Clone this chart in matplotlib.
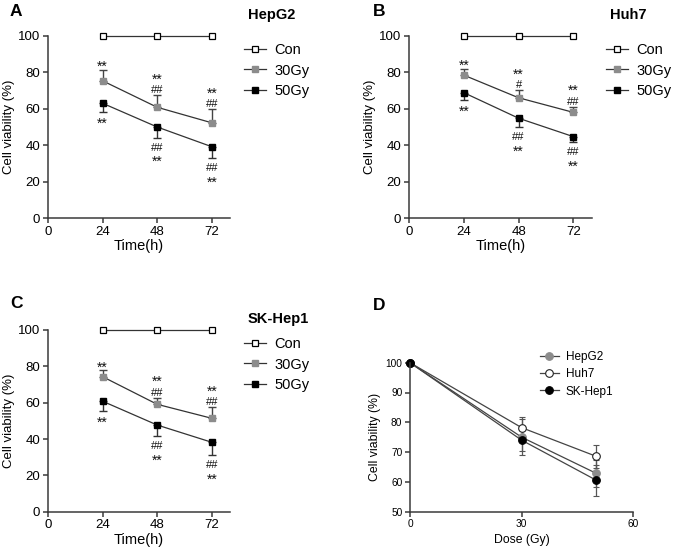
import matplotlib

matplotlib.use("Agg")
import matplotlib.pyplot as plt

plt.rcParams["font.family"] = ["Liberation Sans", "DejaVu Sans"]

# time course panels (A-C)
time_h = [24, 48, 72]
time_ticks = [0, 24, 48, 72]
group_labels = ["Con", "30Gy", "50Gy"]
con_values = [100, 100, 100]

hepg2_30 = [75.3, 60.8, 52.3]
hepg2_30_err = [5.9, 6.7, 7.6]
hepg2_50 = [63.0, 50.0, 39.2]
hepg2_50_err = [4.6, 5.9, 6.3]

huh7_30 = [78.4, 66.0, 58.0]
huh7_30_err = [3.4, 4.3, 3.1]
huh7_50 = [68.8, 54.8, 44.7]
huh7_50_err = [4.0, 5.0, 3.0]

sk_30 = [74.3, 59.1, 51.4]
sk_30_err = [3.5, 3.6, 6.1]
sk_50 = [60.8, 47.7, 38.2]
sk_50_err = [5.2, 6.0, 7.0]

# significance marks, lines listed top to bottom
hepg2_marks_30 = ["**", "**\n##", "**\n##"]
hepg2_marks_50 = ["**", "##\n**", "##\n**"]
huh7_marks_30 = ["**", "**\n#", "**\n##"]
huh7_marks_50 = ["**", "##\n**", "##\n**"]
sk_marks_30 = ["**", "**\n##", "**\n##"]
sk_marks_50 = ["**", "##\n**", "##\n**"]

# dose panel (D)
dose_gy = [0, 30, 50]
dose_ticks = [0, 30, 60]
cell_lines = ["HepG2", "Huh7", "SK-Hep1"]
d_hepg2 = [100, 75.0, 62.9]
d_hepg2_err = [0, 6.0, 4.6]
d_huh7 = [100, 78.2, 68.6]
d_huh7_err = [0, 3.5, 3.8]
d_sk = [100, 74.0, 60.6]
d_sk_err = [0, 3.6, 5.2]

W, H = 675, 554
PX = 100 / 72  # pixels per point
AX_COLOR = "#3a3a3a"
GRAY = "#8c8c8c"
LINE = "#333333"
STAR_FS, HASH_FS = 10, 8
MARK_STEP = 12.5  # px between stacked marks


def fig_rect(left, top, right, bottom):
    return [left / W, 1 - bottom / H, (right - left) / W, (bottom - top) / H]


def style_axes(ax, size):
    for side in ("top", "right"):
        ax.spines[side].set_visible(False)
    for side in ("left", "bottom"):
        ax.spines[side].set_color(AX_COLOR)
        ax.spines[side].set_linewidth(1.1)
    ax.tick_params(direction="out", length=3.5, width=1.1, color=AX_COLOR,
                   labelsize=size, pad=2)


def put_mark(ax, x, y, text, center_px):
    # center_px: vertical position of the glyph centre relative to (x, y)
    fs = STAR_FS if "*" in text else HASH_FS
    glyph_mid = (0.5 if "*" in text else 0.36) * fs * PX
    ax.annotate(text, (x, y), xytext=(0, (center_px - glyph_mid) / PX),
                textcoords="offset points", ha="center", va="baseline",
                fontsize=fs, color="#111111")


def time_panel(ax, v30, e30, v50, e50, marks30, marks50):
    ax.plot(time_h, con_values, color=LINE, lw=0.9, marker="s", ms=5,
            mfc="white", mec="black", mew=0.9, clip_on=False, zorder=4,
            label=group_labels[0])
    c30 = ax.errorbar(time_h, v30, yerr=[[0] * 3, e30], color=LINE, lw=0.9,
                      marker="s", ms=5, mfc=GRAY, mec=GRAY, ecolor="#444444",
                      elinewidth=1, capsize=3, capthick=1, zorder=3)
    c50 = ax.errorbar(time_h, v50, yerr=[e50, [0] * 3], color=LINE, lw=0.9,
                      marker="s", ms=5, mfc="black", mec="black", ecolor="#333333",
                      elinewidth=1, capsize=3, capthick=1, zorder=3)
    for x, y, e, m in zip(time_h, v30, e30, marks30):
        lines = m.split("\n")[::-1]
        for i, t in enumerate(lines):
            put_mark(ax, x, y + e, t, 6 + MARK_STEP * i)
    for x, y, e, m in zip(time_h, v50, e50, marks50):
        for i, t in enumerate(m.split("\n")):
            put_mark(ax, x, y - e, t, -9 - MARK_STEP * i)
    ax.set_xlim(0, 80)
    ax.set_ylim(0, 100)
    ax.set_xticks(time_ticks)
    ax.set_yticks(range(0, 101, 20))
    ax.set_xlabel("Time(h)", fontsize=10.5, labelpad=1)
    ax.set_ylabel("Cell viability (%)", fontsize=9.5, labelpad=2)
    style_axes(ax, 9.5)
    return [ax.lines[0], c30[0], c50[0]]


def panel_legend(ax, handles, title, leg_xy, title_y):
    ax.legend(handles, group_labels, loc="upper left", frameon=False,
              fontsize=10.5, bbox_to_anchor=(leg_xy[0] / W, 1 - leg_xy[1] / H),
              bbox_transform=fig.transFigure, handlelength=1.5,
              handletextpad=0.6, labelspacing=0.45, borderpad=0,
              borderaxespad=0)
    fig.text((leg_xy[0] + 4) / W, 1 - title_y / H, title, fontsize=10.5,
             fontweight="bold", va="center")


def panel_letter(letter, x, y):
    fig.text(x / W, 1 - y / H, letter, fontsize=12.5, fontweight="bold",
             va="center")


fig = plt.figure(figsize=(W / 100, H / 100), dpi=100)

ax_a = fig.add_axes(fig_rect(48, 35.7, 230, 218.3))
h = time_panel(ax_a, hepg2_30, hepg2_30_err, hepg2_50, hepg2_50_err,
               hepg2_marks_30, hepg2_marks_50)
panel_legend(ax_a, h, "HepG2", (244, 43), 15)
panel_letter("A", 10, 11)

ax_b = fig.add_axes(fig_rect(409, 35.7, 591.7, 218.3))
h = time_panel(ax_b, huh7_30, huh7_30_err, huh7_50, huh7_50_err,
               huh7_marks_30, huh7_marks_50)
panel_legend(ax_b, h, "Huh7", (606, 43), 15)
panel_letter("B", 373, 11)

ax_c = fig.add_axes(fig_rect(48, 330, 230, 511.7))
h = time_panel(ax_c, sk_30, sk_30_err, sk_50, sk_50_err,
               sk_marks_30, sk_marks_50)
panel_legend(ax_c, h, "SK-Hep1", (244, 337), 319)
panel_letter("C", 10, 303)

ax_d = fig.add_axes(fig_rect(410, 362.7, 633.3, 511.7))
d_styles = [
    dict(mfc=GRAY, mec=GRAY),
    dict(mfc="white", mec="#222222"),
    dict(mfc="black", mec="black"),
]
d_handles = []
for vals, errs, st in zip([d_hepg2, d_huh7, d_sk],
                          [d_hepg2_err, d_huh7_err, d_sk_err], d_styles):
    c = ax_d.errorbar(dose_gy, vals, yerr=errs, color="#444444", lw=0.9,
                      marker="o", ms=5.5, mew=0.8, ecolor="#555555",
                      elinewidth=0.9, capsize=2.5, capthick=0.9, clip_on=False,
                      **st)
    d_handles.append(c[0])
ax_d.set_xlim(0, 60)
ax_d.set_ylim(50, 100)
ax_d.set_xticks(dose_ticks)
ax_d.set_yticks(range(50, 101, 10))
ax_d.set_xlabel("Dose (Gy)", fontsize=8.8, labelpad=3)
ax_d.set_ylabel("Cell viability (%)", fontsize=8.8, labelpad=3)
style_axes(ax_d, 7.3)
ax_d.legend(d_handles, cell_lines, loc="upper left", frameon=False,
            fontsize=8.5, bbox_to_anchor=(540 / W, 1 - 351 / H),
            bbox_transform=fig.transFigure, handlelength=1.6,
            handletextpad=0.6, labelspacing=0.45, borderpad=0, borderaxespad=0)
panel_letter("D", 373, 306)

fig.savefig("out.png", dpi=100)
